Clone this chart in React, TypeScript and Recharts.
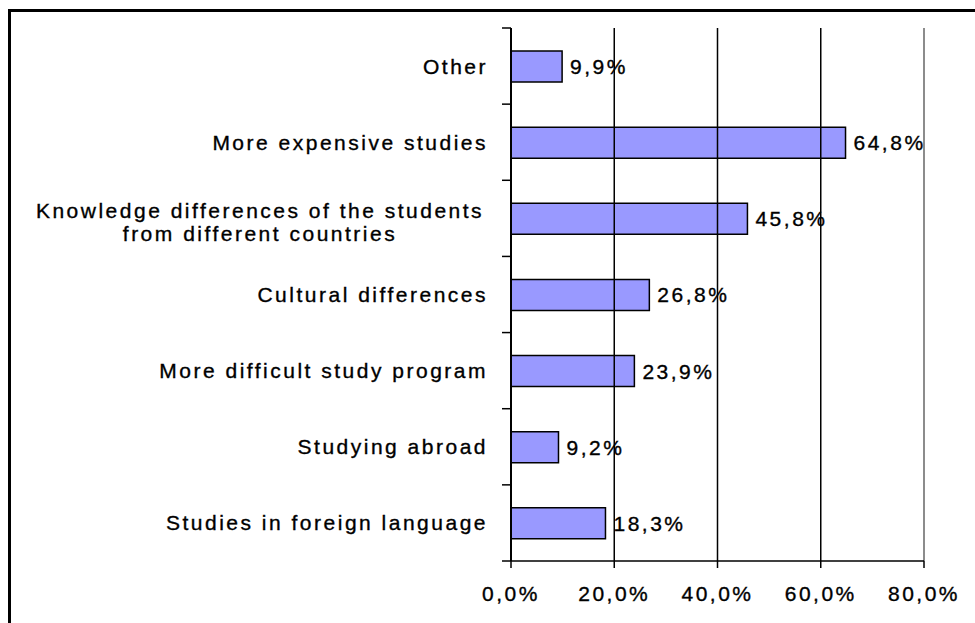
import React from "react";
import { BarChart, Bar, XAxis, YAxis, ReferenceLine, LabelList } from "recharts";

const categories: string[] = [
  "Other",
  "More expensive studies",
  "Knowledge differences of the students\nfrom different countries",
  "Cultural differences",
  "More difficult study program",
  "Studying abroad",
  "Studies in foreign language",
];
const values: number[] = [9.9, 64.8, 45.8, 26.8, 23.9, 9.2, 18.3];
const xTicks: number[] = [0, 20, 40, 60, 80];
const gridTicks: number[] = [20, 40, 60, 80];

const data = categories.map((c, i) => ({ name: c, value: values[i] }));

const W = 975;
const H = 623;
const M_TOP = 28;
const M_BOTTOM = 22;
const X_AXIS_H = 40;
const Y_AXIS_W = 511;
const M_RIGHT = 51;
const PLOT_H = H - M_TOP - M_BOTTOM - X_AXIS_H;
const BAND = PLOT_H / categories.length;

const FONT = "'Liberation Sans', Arial, sans-serif";
const FS = 21;
const LS = 2.5;
const TXT_STROKE = 0.35;

const fmt = (v: number) => v.toFixed(1).replace(".", ",") + "%";

const textStyle: any = {
  fill: "#000",
  fontFamily: FONT,
  fontSize: FS,
  letterSpacing: LS,
  stroke: "#000",
  strokeWidth: TXT_STROKE,
};

const YTick = (props: any) => {
  const { x, y, payload, index } = props;
  const lines: string[] = String(payload.value).split("\n");
  const ax = x;
  const elems: React.ReactNode[] = [];
  elems.push(
    <line key="t0" x1={ax - 9} x2={ax} y1={y - BAND / 2} y2={y - BAND / 2} stroke="#000" strokeWidth={1.5} />
  );
  if (index === categories.length - 1) {
    elems.push(
      <line key="t1" x1={ax - 9} x2={ax} y1={y + BAND / 2} y2={y + BAND / 2} stroke="#000" strokeWidth={1.5} />
    );
  }
  if (lines.length === 1) {
    elems.push(
      <text key="l" x={ax - 23} y={y} dy="0.36em" textAnchor="end" style={textStyle}>
        {lines[0]}
      </text>
    );
  } else {
    const cx = ax - 251;
    lines.forEach((ln, i) => {
      elems.push(
        <text key={"l" + i} x={cx} y={y - 8 + i * 23} dy="0.36em" textAnchor="middle" style={textStyle}>
          {ln}
        </text>
      );
    });
  }
  return <g>{elems}</g>;
};

export default function App() {
  return (
    <div
      style={{
        position: "fixed",
        left: 0,
        top: 0,
        width: W,
        height: H,
        overflow: "hidden",
        background: "#fff",
      }}
    >
      <div
        style={{
          position: "absolute",
          left: 8,
          top: 9,
          width: 1000,
          height: 700,
          borderTop: "3px solid #000",
          borderLeft: "3px solid #000",
          boxSizing: "border-box",
        }}
      />
      <div style={{ position: "absolute", left: 0, top: 0 }}>
        <BarChart
          width={W}
          height={H}
          data={data}
          layout="vertical"
          margin={{ top: M_TOP, right: M_RIGHT, bottom: M_BOTTOM, left: 0 }}
          barCategoryGap={0}
        >
          <XAxis
            type="number"
            domain={[0, 80]}
            ticks={xTicks}
            tickFormatter={fmt}
            height={X_AXIS_H}
            axisLine={{ stroke: "#000", strokeWidth: 1.5 }}
            tickLine={{ stroke: "#000", strokeWidth: 1.5 }}
            tickSize={7}
            tickMargin={18}
            interval={0}
            tick={textStyle}
          />
          <XAxis
            xAxisId="top"
            orientation="top"
            type="number"
            domain={[0, 80]}
            height={0}
            tick={false}
            tickLine={false}
            axisLine={{ stroke: "#8c8c8c", strokeWidth: 2 }}
          />
          <YAxis
            type="category"
            dataKey="name"
            width={Y_AXIS_W}
            axisLine={false}
            tickLine={false}
            tickSize={0}
            tickMargin={0}
            interval={0}
            tick={<YTick />}
          />
          {gridTicks.map((t) => (
            <ReferenceLine
              key={t}
              x={t}
              stroke={t === 80 ? "#8c8c8c" : "#000"}
              strokeWidth={t === 80 ? 2 : 1.5}
              ifOverflow="visible"
            />
          ))}
          <Bar dataKey="value" fill="#9999FF" stroke="#000" strokeWidth={1.5} barSize={31} isAnimationActive={false}>
            <LabelList
              dataKey="value"
              position="right"
              offset={8}
              formatter={(v: any) => fmt(Number(v))}
              style={textStyle}
            />
          </Bar>
          <ReferenceLine x={0} stroke="#000" strokeWidth={2} ifOverflow="visible" />
        </BarChart>
      </div>
    </div>
  );
}
